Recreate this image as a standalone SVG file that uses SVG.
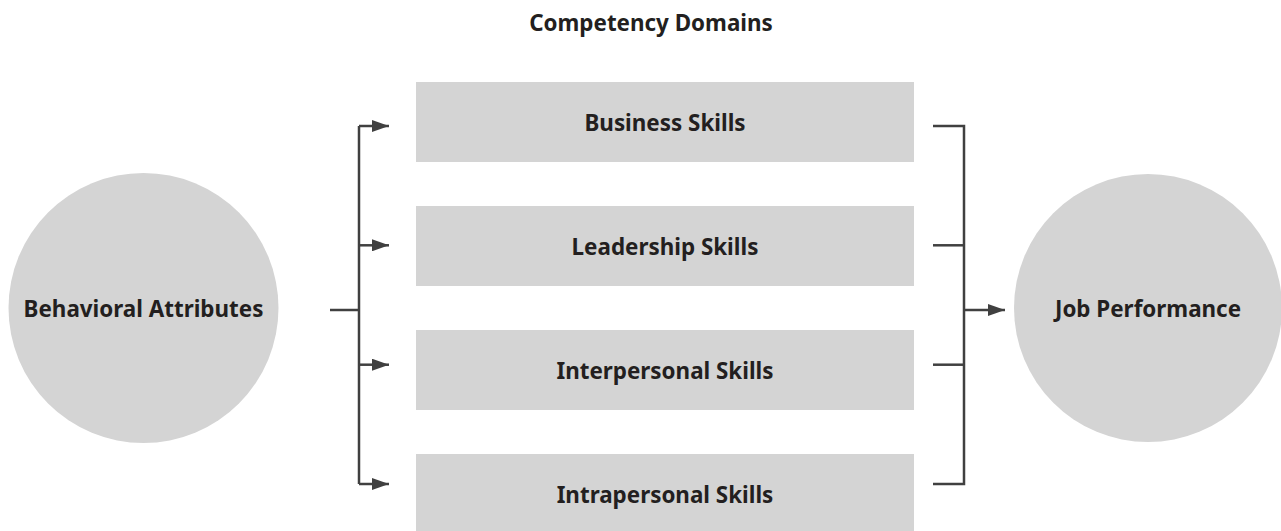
<svg xmlns="http://www.w3.org/2000/svg" width="1281" height="531" viewBox="0 0 1281 531">
<defs>
<style>
.n{fill:#d4d4d4}
.t{font-family:"Noto Sans","Open Sans",sans-serif;font-weight:bold;font-size:22.4px;fill:#231f20;text-anchor:middle;dominant-baseline:central}
.c{fill:none;stroke:#404040;stroke-width:2.5}
</style>
<marker id="ah" viewBox="0 0 17 12" refX="17" refY="6" markerWidth="17" markerHeight="12" markerUnits="userSpaceOnUse" orient="auto">
<path d="M0,0 L17,6 L0,12 Z" fill="#404040"/>
</marker>
</defs>
<rect width="1281" height="531" fill="#fff"/>
<text id="title" class="t" x="651" y="22">Competency Domains</text>
<g id="behavioral"><circle class="n" cx="143.5" cy="308" r="135"/><text class="t" x="143.5" y="308">Behavioral Attributes</text></g>
<g id="job"><circle class="n" cx="1148" cy="308" r="134"/><text class="t" x="1148" y="308">Job Performance</text></g>
<g id="business"><rect class="n" x="416" y="82" width="498" height="80"/><text class="t" x="665" y="122">Business Skills</text></g>
<g id="leadership"><rect class="n" x="416" y="206" width="498" height="80"/><text class="t" x="665" y="246">Leadership Skills</text></g>
<g id="interpersonal"><rect class="n" x="416" y="330" width="498" height="80"/><text class="t" x="665" y="370">Interpersonal Skills</text></g>
<g id="intrapersonal"><rect class="n" x="416" y="454" width="498" height="80"/><text class="t" x="665" y="494">Intrapersonal Skills</text></g>
<g id="connectors">
<path class="c" d="M330,310 H359"/>
<path class="c" d="M359,126 V484"/>
<path class="c" d="M359,126 H389" marker-end="url(#ah)"/>
<path class="c" d="M359,245.3 H389" marker-end="url(#ah)"/>
<path class="c" d="M359,364.7 H389" marker-end="url(#ah)"/>
<path class="c" d="M359,484 H389" marker-end="url(#ah)"/>
<path class="c" d="M933,126 H964 V484 H933"/>
<path class="c" d="M933,245.3 H964"/>
<path class="c" d="M933,364.7 H964"/>
<path class="c" d="M964,310 H1005" marker-end="url(#ah)"/>
</g>
</svg>
